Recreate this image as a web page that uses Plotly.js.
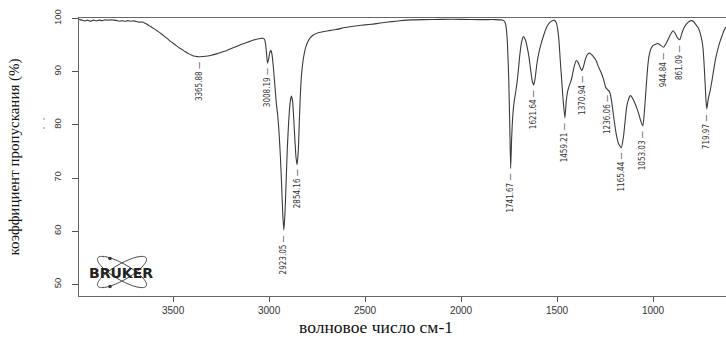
<!DOCTYPE html>
<html>
<head>
<meta charset="utf-8">
<script src="https://cdn.plot.ly/plotly-3.0.1.min.js"></script>
<style>
html,body{margin:0;padding:0;background:#fff;}
#chart{width:726px;height:337px;}
</style>
</head>
<body>
<div id="chart"></div>
<script>
// IR spectrum: wavenumber (cm-1) and transmittance (%)
const wavenumber = [
3990,3975,3960,3945,3930,3915,3900,3885,3870,3855,3840,3825,3810,3795,3780,3765,3750,3735,3720,3705,3690,3675,
3660,3645,3630,3615,3600,3580,3560,3540,3520,3500,3480,3460,3440,3420,3400,3385,3366,3345,3320,3300,3280,3260,
3240,3220,3200,3180,3160,3140,3120,3100,3080,3060,3045,3032,3024,3018,3013,3008,3003,2997,2991,2985,2978,2970,
2962,2955,2948,2941,2935,2929,2923,2917,2911,2905,2898,2891,2884,2878,2872,2866,2860,2854,2848,2842,2836,2830,
2822,2812,2800,2785,2770,2750,2720,2690,2660,2640,2620,2580,2540,2500,2460,2420,2380,2340,2300,2260,2200,2100,
2000,1900,1820,1790,1778,1770,1764,1758,1752,1746,1741.67,1737,1731,1723,1714,1705,1695,1685,1675,1665,1655,
1646,1637,1629,1621.64,1614,1605,1595,1585,1570,1555,1540,1525,1515,1505,1497,1490,1483,1476,1469,1459.21,1452,
1445,1438,1430,1422,1412,1400,1390,1380,1370.94,1362,1352,1340,1330,1320,1310,1298,1285,1270,1258,1246,1236.06,
1226,1216,1205,1193,1180,1165.44,1155,1146,1138,1128,1118,1108,1096,1085,1074,1063,1053.03,1045,1038,1031,1024,
1015,1003,990,975,962,944.84,932,920,908,895,883,872,861.09,850,838,825,812,800,788,776,764,755,746,740,735,729,
724,719.97,714,710,702,690,676,662,650,640,630,620
];
const transmittance = [
99.85,99.7,99.55,99.7,99.5,99.7,99.55,99.7,99.6,99.75,99.7,99.75,99.7,99.65,99.5,99.6,99.45,99.6,99.5,99.55,99.45,99.3,
99.35,99.1,98.8,98.45,98.1,97.6,97.1,96.5,95.9,95.35,94.8,94.3,93.85,93.4,93.05,92.9,92.8,92.85,92.95,93.1,93.3,93.5,
93.75,94.0,94.3,94.6,94.9,95.2,95.45,95.7,95.95,96.15,96.25,96.3,96.1,95.2,93.3,91.6,92.2,93.5,94.0,93.3,91.0,87.5,
84.0,81.8,78.5,74.0,69.0,63.5,60.2,63.5,69.5,75.5,80.5,84.0,85.4,84.6,81.5,77.5,74.0,72.5,75.0,81.0,86.5,89.8,
92.3,94.2,95.5,96.4,96.9,97.25,97.5,97.7,97.9,98.0,98.2,98.45,98.65,98.8,98.95,99.15,99.35,99.5,99.65,99.75,99.8,99.85,
99.85,99.8,99.8,99.75,99.6,99.2,98.0,95.0,89.0,79.5,71.8,77.0,81.5,84.5,86.5,89.0,92.8,95.5,96.6,96.0,94.5,
92.7,90.2,88.2,87.5,88.8,91.5,93.5,95.0,96.8,98.3,99.2,99.6,99.65,99.3,98.0,95.8,92.0,88.5,85.0,81.3,84.5,
86.3,87.2,88.0,89.0,90.8,92.1,91.7,90.8,90.2,91.0,92.4,93.3,93.5,93.2,92.8,92.2,91.0,89.8,88.6,87.0,86.6,
86.2,84.5,81.5,78.5,76.5,75.7,77.5,80.5,83.2,84.8,85.5,85.1,84.2,83.2,82.0,80.6,79.8,82.5,86.0,89.5,92.2,
93.9,94.8,95.1,95.3,95.0,94.6,95.3,96.2,97.1,97.7,97.1,96.3,96.0,97.2,98.3,99.0,99.45,99.6,99.4,98.8,98.2,97.3,96.0,94.5,92.0,88.0,
84.5,83.0,84.5,85.3,86.5,89.0,92.1,94.3,95.8,96.8,97.8,98.4
];
// labelled peaks
const peakLabels = ["3365.88","3008.19","2923.05","2854.16","1741.67","1621.64","1459.21","1370.94","1236.06","1165.44","1053.03","944.84","861.09","719.97"];
const peakWavenumber = [3365.88,3008.19,2923.05,2854.16,1741.67,1621.64,1459.21,1370.94,1236.06,1165.44,1053.03,944.84,861.09,719.97];
const peakTransmittance = [92.8,91.6,60.2,72.5,71.8,87.5,81.3,90.2,86.6,75.7,79.8,94.6,96.0,83.0];
// axis ticks
const xTickValues = [3500,3000,2500,2000,1500,1000];
const yTickValues = [50,60,70,80,90,100];

const W = 726, H = 337;
const M = {l: 79, r: 0, t: 18, b: 41};
const PW = W - M.l - M.r, PH = H - M.t - M.b;
const px2paperX = p => (p - M.l) / PW;
const px2paperY = p => (H - M.b - p) / PH;

// peak annotations (rotated labels with a tick dash)
const annotations = peakLabels.map((lab, i) => ({
  x: peakWavenumber[i], y: peakTransmittance[i], xref: 'x', yref: 'y',
  text: lab + ' \u2014', showarrow: false, textangle: -90,
  xanchor: 'center', yanchor: 'top', yshift: -3,
  font: {family: '"Liberation Sans Narrow", "DejaVu Sans Condensed", "Liberation Sans", Arial, sans-serif', size: 8, color: '#333'}
}));
// Bruker logo text
annotations.push({
  x: px2paperX(121), y: px2paperY(273), xref: 'paper', yref: 'paper',
  text: '<b>BRUKER</b>', showarrow: false, xanchor: 'center', yanchor: 'middle',
  font: {family: '"DejaVu Sans", "Liberation Sans", sans-serif', size: 14, color: '#222'}
});
// x axis title (placed left of centre, as in the original)
annotations.push({
  x: px2paperX(376), y: px2paperY(326.5), xref: 'paper', yref: 'paper',
  text: 'волновое число см-1', showarrow: false, xanchor: 'center', yanchor: 'middle',
  borderpad: 0,
  font: {family: '"Liberation Serif", "Times New Roman", serif', size: 17.5, color: '#111'}
});

// logo ellipses as paper-coordinate paths
function ellipsePath(cx, cy, a, b, deg) {
  const th = deg * Math.PI / 180;
  let d = '';
  for (let k = 0; k <= 72; k++) {
    const t = k / 72 * 2 * Math.PI;
    const x = cx + a * Math.cos(t) * Math.cos(th) - b * Math.sin(t) * Math.sin(th);
    const y = cy + a * Math.cos(t) * Math.sin(th) + b * Math.sin(t) * Math.cos(th);
    d += (k === 0 ? 'M' : 'L') + px2paperX(x).toFixed(5) + ',' + px2paperY(y).toFixed(5);
  }
  return d + 'Z';
}
function dot(cx, cy, r, col) {
  return {type: 'circle', xref: 'paper', yref: 'paper',
    x0: px2paperX(cx - r), x1: px2paperX(cx + r), y0: px2paperY(cy + r), y1: px2paperY(cy - r),
    fillcolor: col || '#333', line: {width: 0}, layer: 'above'};
}
const shapes = [
  {type: 'path', xref: 'paper', yref: 'paper', path: ellipsePath(122, 272, 28, 8, 30), line: {color: '#444', width: 1}, layer: 'above'},
  {type: 'path', xref: 'paper', yref: 'paper', path: ellipsePath(122, 272, 28, 8, -30), line: {color: '#444', width: 1}, layer: 'above'},
  dot(110, 258.5, 1.8),
  dot(110, 286.5, 1.8),
  // stray specks left of the y axis in the scanned original
  dot(44, 119, 0.8, '#777'),
  dot(44, 128, 0.8, '#777')
];

const trace = {
  x: wavenumber, y: transmittance, type: 'scatter', mode: 'lines',
  line: {color: '#3a3a3a', width: 1.1, shape: 'spline', smoothing: 0.5},
  hoverinfo: 'skip'
};

const layout = {
  width: W, height: H, margin: M,
  paper_bgcolor: '#fff', plot_bgcolor: '#fff',
  showlegend: false,
  xaxis: {
    range: [3990, 620], tickvals: xTickValues, ticktext: xTickValues.map(String),
    showgrid: false, zeroline: false, showline: true, mirror: true,
    linecolor: '#666', linewidth: 1, ticks: 'outside', ticklen: 5, tickcolor: '#555',
    ticklabelstandoff: 0,
    tickfont: {family: '"Liberation Sans", Arial, sans-serif', size: 10, color: '#333'}
  },
  yaxis: {
    range: [47.8, 100.1], tickvals: yTickValues, ticktext: yTickValues.map(String),
    showgrid: false, zeroline: false, showline: true, mirror: false,
    linecolor: '#666', linewidth: 1, ticks: 'outside', ticklen: 6, tickcolor: '#555',
    tickangle: -90, ticklabelstandoff: 7,
    tickfont: {family: '"Liberation Sans", Arial, sans-serif', size: 9.5, color: '#333'},
    title: {text: 'коэффициент пропускания (%)', standoff: 28,
      font: {family: '"Liberation Serif", "Times New Roman", serif', size: 15, color: '#111'}}
  },
  annotations: annotations,
  shapes: shapes
};

Plotly.newPlot('chart', [trace], layout, {displayModeBar: false, staticPlot: true});
</script>
</body>
</html>
